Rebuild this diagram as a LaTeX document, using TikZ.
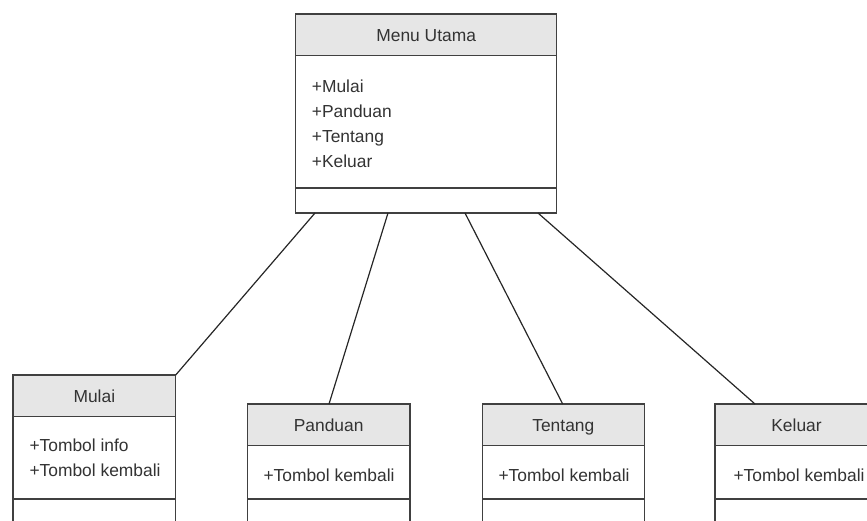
\documentclass[tikz,border=0pt]{standalone}
\usepackage{fontspec}
\setmainfont{Liberation Sans}
\definecolor{edge}{HTML}{404040}
\definecolor{head}{HTML}{E6E6E6}
\definecolor{ink}{HTML}{333333}
\tikzset{
  part/.style={draw=edge, line width=1.2pt, anchor=north west, inner sep=0pt, outer sep=0pt},
  hdr/.style={part, fill=head, text=ink, text height=14.5pt, text depth=0.8pt,
    font=\fontsize{17.4}{25}\selectfont},
  attrs/.style={part, fill=white},
  meth/.style={part, fill=white},
  attrtxt/.style={anchor=west, inner sep=0pt, text=ink, align=left, font=\fontsize{17.4}{25}\selectfont},
  link/.style={draw=black!85, line width=1.2pt}
}
\begin{document}
\begin{tikzpicture}[x=1pt, y=-1pt]
\useasboundingbox (0,0) rectangle (867,520);

% Menu Utama
\node[hdr, minimum width=261pt, minimum height=41.7pt] (mu-h) at (295.7,14) {Menu Utama};
\node[attrs, minimum width=261pt, minimum height=132.3pt] (mu-a) at (295.7,55.7) {};
\node[meth, minimum width=261pt, minimum height=25pt] (mu-m) at (295.7,188) {};
\node[attrtxt] (mu-t) at (311.7,123.5) {+Mulai\\+Panduan\\+Tentang\\+Keluar};

% Mulai
\node[hdr, minimum width=162.7pt, minimum height=41.7pt] (ml-h) at (13,375) {Mulai};
\node[attrs, minimum width=162.7pt, minimum height=82.3pt] (ml-a) at (13,416.7) {};
\node[meth, minimum width=162.7pt, minimum height=30pt] (ml-m) at (13,499) {};
\node[attrtxt] (ml-t) at (29.3,457.5) {+Tombol info\\+Tombol kembali};

% Panduan
\node[hdr, minimum width=162.7pt, minimum height=41.7pt] (pd-h) at (247.3,404) {Panduan};
\node[attrs, minimum width=162.7pt, minimum height=53.3pt] (pd-a) at (247.3,445.7) {};
\node[meth, minimum width=162.7pt, minimum height=30pt] (pd-m) at (247.3,499) {};
\node[attrtxt] (pd-t) at (263.3,475) {+Tombol kembali};

% Tentang
\node[hdr, minimum width=162pt, minimum height=41.7pt] (tt-h) at (482.3,404) {Tentang};
\node[attrs, minimum width=162pt, minimum height=53.3pt] (tt-a) at (482.3,445.7) {};
\node[meth, minimum width=162pt, minimum height=30pt] (tt-m) at (482.3,499) {};
\node[attrtxt] (tt-t) at (498.3,475) {+Tombol kembali};

% Keluar
\node[hdr, minimum width=163pt, minimum height=41.7pt] (kl-h) at (715,404) {Keluar};
\node[attrs, minimum width=163pt, minimum height=53.3pt] (kl-a) at (715,445.7) {};
\node[meth, minimum width=163pt, minimum height=30pt] (kl-m) at (715,499) {};
\node[attrtxt] (kl-t) at (733.3,475) {+Tombol kembali};

% connectors
\draw[link] ([xshift=19.3pt]mu-m.south west) -- (ml-h.north east);
\draw[link] ([xshift=92.3pt]mu-m.south west) -- ([xshift=81.7pt]pd-h.north west);
\draw[link] ([xshift=169.3pt]mu-m.south west) -- ([xshift=80.4pt]tt-h.north west);
\draw[link] ([xshift=242.3pt]mu-m.south west) -- ([xshift=40pt]kl-h.north west);
\end{tikzpicture}
\end{document}
